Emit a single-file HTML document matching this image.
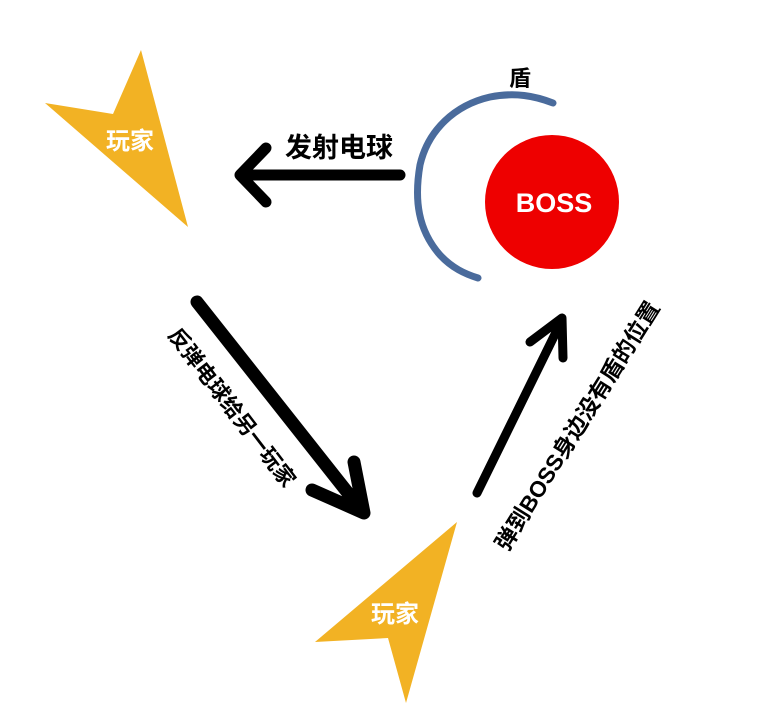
<!DOCTYPE html>
<html><head><meta charset="utf-8"><style>
html,body{margin:0;padding:0;background:#fff;width:778px;height:710px;overflow:hidden}
svg{display:block}
text{font-family:"Liberation Sans","Noto Sans CJK SC",sans-serif;font-weight:bold}
</style></head><body>
<svg width="778" height="710" viewBox="0 0 778 710">
<polygon points="141,50 188,227 45,103 113,114" fill="#f2b224"/>
<text x="130" y="149" font-size="24" fill="#fff" text-anchor="middle">玩家</text>
<polygon points="457,522 406,703 388,638 315,642" fill="#f2b224"/>
<text x="395" y="622" font-size="24" fill="#fff" text-anchor="middle">玩家</text>
<g stroke="#000" stroke-linecap="round" stroke-linejoin="round" fill="none">
<path d="M400,175 L240,175 M266,148 L240,175 L266,202" stroke-width="11"/>
<path d="M197,302 L363,512 M354,462 L364,513 L312,490" stroke-width="13"/>
<path d="M477,493 L562,320 M530,342 L562,318 L563,358" stroke-width="9"/>
</g>
<path d="M553,103 C535,96 515,92 490,97 C455,105 428,130 420,165 C414,200 418,230 440,255 C452,268 465,274 478,278" stroke="#4a6b9c" stroke-width="7" fill="none" stroke-linecap="round"/>
<circle cx="552" cy="202" r="67" fill="#ee0000"/>
<text x="554" y="212" font-size="27" fill="#fff" text-anchor="middle">BOSS</text>
<text x="520" y="86" font-size="22" fill="#000" text-anchor="middle">盾</text>
<text x="339" y="157" font-size="27" fill="#000" text-anchor="middle">发射电球</text>
<text x="0" y="0" font-size="21.5" fill="#000" text-anchor="middle" transform="translate(226,412) rotate(52.5)">反弹电球给另一玩家</text>
<text x="0" y="0" font-size="22.5" fill="#000" text-anchor="middle" transform="translate(584,430) rotate(-58)">弹到BOSS身边没有盾的位置</text>
</svg>
</body></html>
